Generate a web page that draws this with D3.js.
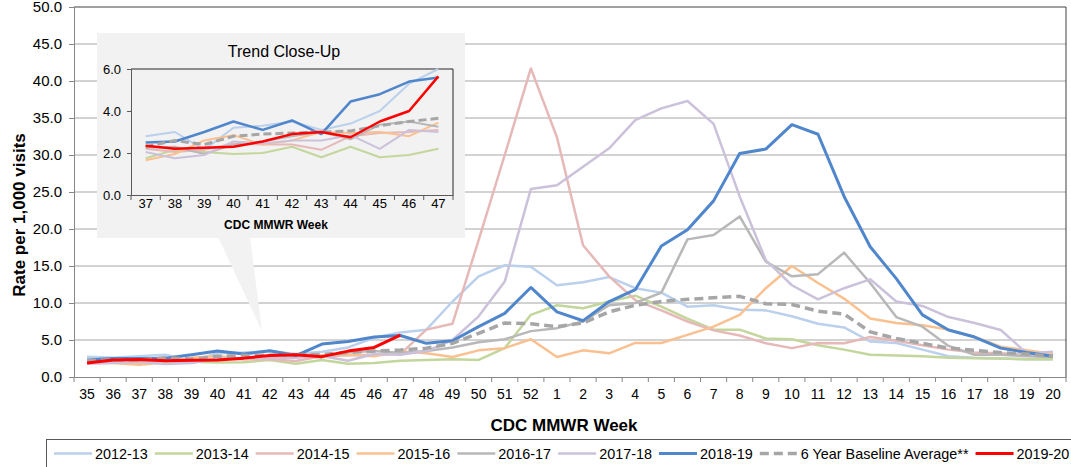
<!DOCTYPE html>
<html>
<head>
<meta charset="utf-8">
<script src="https://cdn.jsdelivr.net/npm/d3@7"></script>
<style>
  body { margin: 0; background: #fff; }
  svg { display: block; font-family: Arial, 'Liberation Sans', sans-serif; }
</style>
</head>
<body>
<svg id="chart" width="1071" height="467"></svg>
<script>
// MMWR weeks shown on the x axis (season runs week 35 -> week 20)
const weeks = ['35','36','37','38','39','40','41','42','43','44','45','46','47','48','49','50','51','52',
  '1','2','3','4','5','6','7','8','9','10','11','12','13','14','15','16','17','18','19','20'];
const closeUpWeeks = ['37','38','39','40','41','42','43','44','45','46','47'];
const yTicks = [0, 5, 10, 15, 20, 25, 30, 35, 40, 45, 50];
const closeUpTicks = [0, 2, 4, 6];

const seasonNames = ['2012-13', '2013-14', '2014-15', '2015-16', '2016-17', '2017-18', '2018-19',
  '6 Year Baseline Average**', '2019-20'];

// rate per 1,000 visits
const rates2012_13 = [2.75, 2.6, 2.8, 3.0, 2.15, 3.2, 3.3, 3.5, 3.1, 3.4, 4.0, 5.3, 6.0, 6.4, 10.2, 13.6, 15.1, 14.9,
  12.4, 12.8, 13.5, 12.0, 11.4, 9.5, 9.7, 9.1, 9.0, 8.2, 7.2, 6.7, 4.8, 4.6, 3.7, 2.8, 2.6, 2.5, 2.4, 2.4];
const rates2013_14 = [2.0, 2.1, 1.75, 2.15, 2.05, 1.95, 2.0, 2.3, 1.8, 2.3, 1.8, 1.9, 2.2, 2.3, 2.4, 2.3, 3.9, 8.4,
  9.7, 9.3, 10.2, 11.0, 9.5, 7.9, 6.4, 6.4, 5.2, 5.1, 4.3, 3.7, 3.0, 2.9, 2.8, 2.6, 2.55, 2.5, 2.4, 2.4];
const rates2014_15 = [2.1, 2.0, 2.2, 2.05, 2.15, 2.45, 2.4, 2.4, 2.15, 2.8, 2.95, 3.0, 3.1, 6.4, 7.2, 18.5, 30.0, 41.7,
  32.4, 17.8, 13.6, 10.4, 9.0, 7.5, 6.3, 5.6, 4.55, 3.9, 4.6, 4.55, 5.4, 4.9, 4.3, 3.7, 3.3, 3.2, 3.0, 2.8];
const rates2015_16 = [2.0, 1.9, 1.65, 1.95, 2.6, 2.85, 2.4, 2.6, 3.0, 2.95, 3.0, 2.8, 3.45, 3.2, 2.7, 3.6, 3.9, 5.1,
  2.7, 3.6, 3.2, 4.6, 4.6, 5.7, 6.8, 8.4, 12.0, 15.0, 12.7, 10.6, 7.9, 7.3, 7.0, 6.4, 5.4, 4.1, 3.6, 3.1];
const rates2016_17 = [2.1, 2.2, 2.25, 2.3, 1.95, 2.4, 2.55, 2.8, 3.0, 2.65, 3.35, 3.5, 3.25, 3.5, 4.0, 4.7, 5.1, 6.2,
  6.6, 7.5, 9.7, 10.0, 11.4, 18.6, 19.2, 21.7, 15.6, 13.6, 13.9, 16.8, 12.7, 8.1, 6.8, 4.2, 3.0, 3.0, 2.8, 2.7];
const rates2017_18 = [1.8, 1.9, 2.05, 1.75, 1.9, 2.55, 2.45, 2.6, 2.6, 2.85, 2.2, 3.1, 3.0, 3.5, 5.0, 8.2, 12.9, 25.4,
  25.9, 28.4, 30.9, 34.7, 36.3, 37.3, 34.2, 24.4, 15.8, 12.4, 10.5, 12.0, 13.2, 10.2, 9.6, 8.1, 7.3, 6.35, 3.2, 3.4];
const rates2018_19 = [2.3, 2.5, 2.5, 2.55, 3.0, 3.5, 3.1, 3.55, 2.9, 4.45, 4.8, 5.4, 5.6, 4.55, 4.9, 6.8, 8.6, 12.1,
  8.8, 7.6, 10.2, 11.8, 17.7, 19.9, 23.8, 30.2, 30.8, 34.1, 32.8, 24.4, 17.6, 13.3, 8.4, 6.35, 5.4, 3.9, 3.3, 2.8];
const ratesBaseline = [2.2, 2.3, 2.3, 2.6, 2.4, 2.8, 2.9, 2.95, 3.0, 3.05, 3.3, 3.5, 3.65, 3.9, 4.55, 5.9, 7.3, 7.2,
  6.8, 7.3, 8.8, 9.7, 10.2, 10.5, 10.7, 10.9, 9.9, 9.8, 8.9, 8.5, 6.1, 5.2, 4.55, 3.9, 3.6, 3.3, 3.1, 2.8];
const rates2019_20 = [1.9, 2.3, 2.35, 2.2, 2.25, 2.3, 2.55, 2.9, 3.0, 2.75, 3.5, 4.0, 5.65];

const seasonRates = [rates2012_13, rates2013_14, rates2014_15, rates2015_16, rates2016_17,
  rates2017_18, rates2018_19, ratesBaseline, rates2019_20];

// look of each line, same order as seasonNames
const seasonStyles = [
  { color: '#bad0ec', width: 2.5 },
  { color: '#c3d69b', width: 2.5 },
  { color: '#e6b9b8', width: 2.5 },
  { color: '#fac090', width: 2.5 },
  { color: '#b8b8b8', width: 2.5 },
  { color: '#ccc1da', width: 2.5 },
  { color: '#4f86cc', width: 3 },
  { color: '#a6a6a6', width: 3.5, dash: '9,5' },
  { color: '#ff0000', width: 3 }
];

const series = seasonNames.map((name, i) => ({
  name: name,
  style: seasonStyles[i],
  points: seasonRates[i].map((v, j) => ({ week: weeks[j], value: v }))
}));

const svg = d3.select('#chart');

// ---- main chart ----
const margin = { top: 7, right: 5, bottom: 90, left: 74 };
const width = 1071 - margin.left - margin.right;
const height = 467 - margin.top - margin.bottom;

const chart = svg.append('g')
  .attr('transform', `translate(${margin.left},${margin.top})`);

const xScale = d3.scaleBand().domain(weeks).range([0, width]);
const yScale = d3.scaleLinear().domain([0, 50]).range([height, 0]);

chart.selectAll('.grid')
  .data(yTicks.filter(d => d > 0 && d < 50))
  .join('line')
  .attr('class', 'grid')
  .attr('x1', 0)
  .attr('x2', width)
  .attr('y1', d => yScale(d))
  .attr('y2', d => yScale(d))
  .attr('stroke', '#a6a6a6')
  .attr('stroke-width', 1);

// plot frame top + right
chart.append('path')
  .attr('d', `M0,${yScale(50)}H${width}V${height}`)
  .attr('fill', 'none')
  .attr('stroke', '#404040')
  .attr('stroke-width', 1);

const yAxis = d3.axisLeft(yScale)
  .tickValues(yTicks)
  .tickFormat(d3.format('.1f'))
  .tickSize(5)
  .tickPadding(7);
const yAxisG = chart.append('g').call(yAxis);
yAxisG.selectAll('text').style('font-size', '15px').attr('fill', '#000');
yAxisG.selectAll('line, path').attr('stroke', '#868686');

const xAxis = d3.axisBottom(xScale).tickSize(0).tickPadding(12);
const xAxisG = chart.append('g')
  .attr('transform', `translate(0,${height})`)
  .call(xAxis);
xAxisG.selectAll('text').style('font-size', '14px').attr('fill', '#000');
xAxisG.select('.domain').attr('stroke', '#868686');

// tick marks sit between the categories
chart.selectAll('.xtick')
  .data(weeks.map(w => xScale(w)).concat([width]))
  .join('line')
  .attr('class', 'xtick')
  .attr('x1', d => d)
  .attr('x2', d => d)
  .attr('y1', height)
  .attr('y2', height + 5)
  .attr('stroke', '#868686');

const line = d3.line()
  .x(d => xScale(d.week) + xScale.bandwidth() / 2)
  .y(d => yScale(d.value));

chart.selectAll('.season')
  .data(series)
  .join('path')
  .attr('class', 'season')
  .attr('d', d => line(d.points))
  .attr('fill', 'none')
  .attr('stroke', d => d.style.color)
  .attr('stroke-width', d => d.style.width)
  .attr('stroke-dasharray', d => d.style.dash || null)
  .attr('stroke-linejoin', 'round');

svg.append('text')
  .attr('x', 564)
  .attr('y', 431)
  .attr('text-anchor', 'middle')
  .style('font-size', '17px')
  .style('font-weight', 'bold')
  .text('CDC MMWR Week');

svg.append('text')
  .attr('transform', 'translate(25,215) rotate(-90)')
  .attr('text-anchor', 'middle')
  .style('font-size', '17px')
  .style('font-weight', 'bold')
  .text('Rate per 1,000 visits');

// ---- trend close-up inset ----
const inset = svg.append('g').attr('class', 'inset');

inset.append('rect')
  .attr('x', 97).attr('y', 33)
  .attr('width', 368).attr('height', 205)
  .attr('fill', '#f2f2f2');
inset.append('path')
  .attr('d', 'M218,237L250,237L262,331Z')
  .attr('fill', '#f2f2f2');

const ix = d3.scaleBand().domain(closeUpWeeks).range([131, 453]);
const iy = d3.scaleLinear().domain([0, 6]).range([195, 69]);

inset.append('path')
  .attr('d', `M${ix.range()[0]},${iy(6)}H${ix.range()[1]}V${iy(0)}`)
  .attr('fill', 'none')
  .attr('stroke', '#262626');

const iyAxisG = inset.append('g')
  .attr('transform', `translate(${ix.range()[0]},0)`)
  .call(d3.axisLeft(iy).tickValues(closeUpTicks).tickFormat(d3.format('.1f')).tickSize(4).tickPadding(6));
iyAxisG.selectAll('text').style('font-size', '13px').attr('fill', '#000');
iyAxisG.selectAll('line, path').attr('stroke', '#595959');

const ixAxisG = inset.append('g')
  .attr('transform', `translate(0,${iy(0)})`)
  .call(d3.axisBottom(ix).tickSize(0).tickPadding(4));
ixAxisG.selectAll('text').style('font-size', '13px').attr('fill', '#000');
ixAxisG.select('.domain').attr('stroke', '#595959');

inset.selectAll('.ixtick')
  .data(closeUpWeeks.map(w => ix(w)).concat([ix.range()[1]]))
  .join('line')
  .attr('class', 'ixtick')
  .attr('x1', d => d).attr('x2', d => d)
  .attr('y1', iy(0)).attr('y2', iy(0) + 5)
  .attr('stroke', '#595959');

inset.append('clipPath').attr('id', 'inset-clip')
  .append('rect')
  .attr('x', ix.range()[0]).attr('y', iy(6) - 2)
  .attr('width', ix.range()[1] - ix.range()[0]).attr('height', iy(0) - iy(6) + 2);

const iline = d3.line()
  .x(d => ix(d.week) + ix.bandwidth() / 2)
  .y(d => iy(d.value));

inset.append('g')
  .attr('clip-path', 'url(#inset-clip)')
  .selectAll('path')
  .data(series)
  .join('path')
  .attr('d', d => iline(d.points.filter(p => closeUpWeeks.includes(p.week))))
  .attr('fill', 'none')
  .attr('stroke', d => d.style.color)
  .attr('stroke-width', d => d.style.width - 0.5)
  .attr('stroke-dasharray', d => d.style.dash ? '8,4' : null)
  .attr('stroke-linejoin', 'round');

inset.append('text')
  .attr('x', 284).attr('y', 57)
  .attr('text-anchor', 'middle')
  .style('font-size', '16px')
  .text('Trend Close-Up');

inset.append('text')
  .attr('x', 276).attr('y', 229)
  .attr('text-anchor', 'middle')
  .style('font-size', '12px')
  .style('font-weight', 'bold')
  .text('CDC MMWR Week');

// ---- legend ----
const legend = svg.append('g').attr('class', 'legend');
legend.append('rect')
  .attr('x', 46.5).attr('y', 439.5)
  .attr('width', 1100).attr('height', 60)
  .attr('fill', 'none')
  .attr('stroke', '#595959');

let lx = 54;
series.forEach(s => {
  legend.append('line')
    .attr('x1', lx).attr('x2', lx + 38)
    .attr('y1', 453.5).attr('y2', 453.5)
    .attr('stroke', s.style.color)
    .attr('stroke-width', s.style.width)
    .attr('stroke-dasharray', s.style.dash || null);
  const t = legend.append('text')
    .attr('x', lx + 41).attr('y', 459)
    .style('font-size', '14.4px')
    .text(s.name);
  lx += 41 + t.node().getComputedTextLength() + 7;
});
</script>
</body>
</html>
